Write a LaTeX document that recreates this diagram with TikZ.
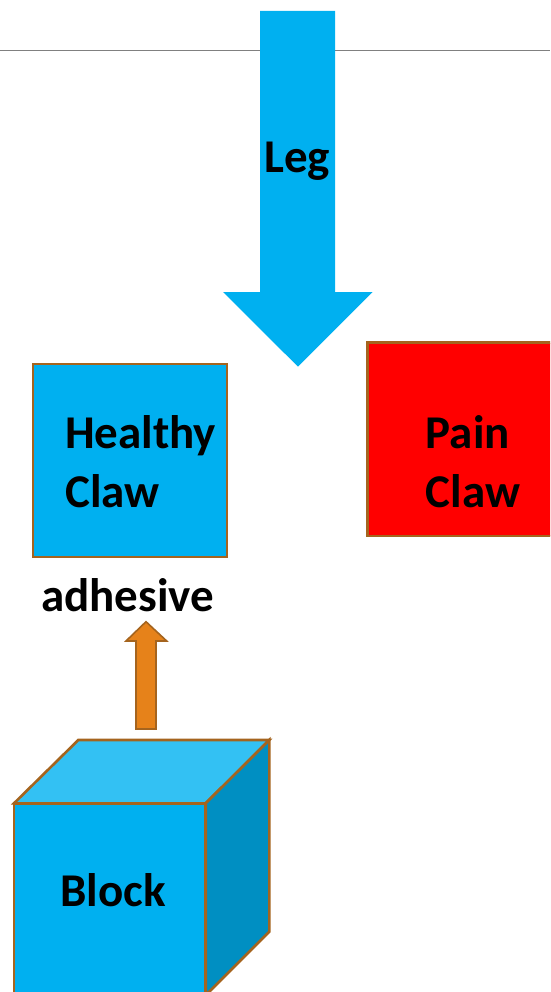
\documentclass[tikz,border=0pt]{standalone}
\usepackage{fontspec}
\setmainfont{Carlito}
\definecolor{skyblue}{HTML}{00B0F0}
\definecolor{skytop}{HTML}{33C1F3}
\definecolor{skyside}{HTML}{008FC2}
\definecolor{brownline}{HTML}{A5641E}
\definecolor{orangefill}{HTML}{E6821A}
\definecolor{rulegray}{HTML}{808080}
\begin{document}
\begin{tikzpicture}[x=1pt,y=-1pt,
  lbl/.style={font=\fontsize{47}{59}\selectfont\bfseries, inner sep=0pt, anchor=base west},
  edge/.style={draw=brownline, line width=2.6pt, line join=miter}]
\clip (0,0) rectangle (550,992);
\fill[white] (0,0) rectangle (550,992);
% rule
\coordinate (ruleL) at (0,50.7);
\coordinate (ruleR) at (550,50.7);
\draw[rulegray, line width=1.5pt] (ruleL) -- (ruleR);
% leg arrow
\fill[skyblue] (260,11) -- (335,11) -- (335,292) -- (372.5,292) -- (298,366.7)
  -- (223,292) -- (260,292) -- cycle;
\node[lbl] (leg) at (264,172.7) {Leg};
% healthy claw
\draw[edge, fill=skyblue] (33,364) rectangle (227,557);
\node[lbl] (healthy) at (65,448) {Healthy};
\node[lbl] (claw1) at (65,507) {Claw};
% pain claw
\draw[edge, fill=red] (367.6,342.7) rectangle (560,536);
\node[lbl] (pain) at (425.5,448) {Pain};
\node[lbl] (claw2) at (425.5,507) {Claw};
% adhesive
\node[lbl] (adh) at (41,611.7) {adhesive};
% orange arrow
\draw[draw=brownline, line width=1.6pt, fill=orangefill, line join=miter]
  (136,729) -- (136,641) -- (126,641) -- (146,621.7) -- (166.7,641) -- (156,641)
  -- (156,729) -- cycle;
% cube
\draw[edge, fill=skytop] (14,803.3) -- (78.3,740) -- (269.3,740) -- (205.7,803.3) -- cycle;
\draw[edge, fill=skyside] (205.7,803.3) -- (269.3,740) -- (269.3,931.7) -- (205.7,995.3) -- cycle;
\draw[edge, fill=skyblue] (14,803.3) rectangle (205.7,995.3);
\node[lbl] (block) at (60,906) {Block};
\end{tikzpicture}
\end{document}
